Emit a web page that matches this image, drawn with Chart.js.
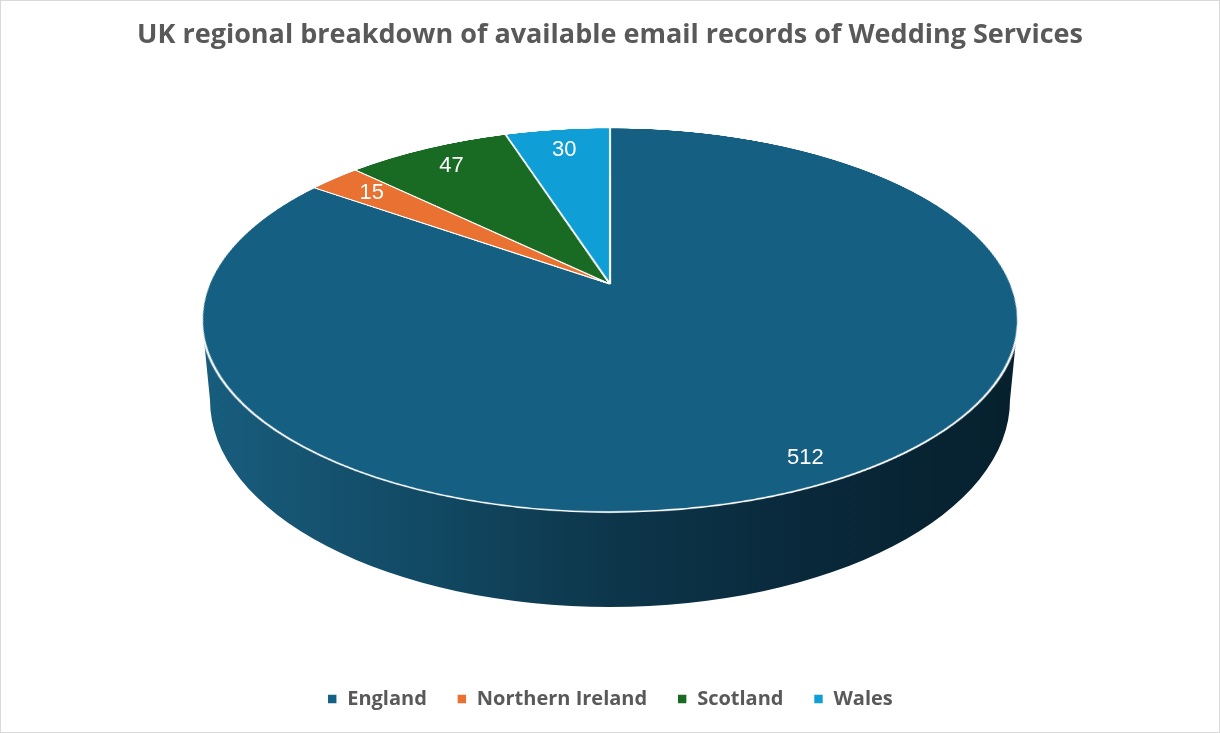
<!DOCTYPE html>
<html>
<head>
<meta charset="utf-8">
<script src="https://cdn.jsdelivr.net/npm/chart.js@4.4.1/dist/chart.umd.min.js"></script>
<style>
  html, body { margin: 0; padding: 0; background: #fff; }
  #wrap { width: 1220px; height: 733px; position: relative; }
</style>
</head>
<body>
<div id="wrap"><canvas id="regionChart"></canvas></div>
<script>
const regions = ['England', 'Northern Ireland', 'Scotland', 'Wales'];
const emailRecords = [512, 15, 47, 30];
const sliceColors = ['#156082', '#e97132', '#196b24', '#0f9ed5'];

// perspective used for the tilted pie: screen x = cx + r*u/(1-k*v), y = cy + b*v/(1-k*v)
const tilt = {
    cx: 610, cy: 284, r: 401, b: 185.25, k: 0.1875,
    // side wall: outline of top face and of the bottom rim
    rimCy: 320, rimRx: 408, rimRy: 192,
    baseCy: 400, baseRx: 400, baseRy: 207,
    labelBack: 0.85, labelFront: 0.9
};

function project(u, v) {
    const d = 1 - tilt.k * v;
    return { x: tilt.cx + tilt.r * u / d, y: tilt.cy + tilt.b * v / d };
}

function depthOfRow(t) {
    return t / (tilt.b + tilt.k * t);
}

const tiltedPie = {
    id: 'tiltedPie',
    beforeDraw(chart) {
        const ctx = chart.ctx;
        ctx.save();
        ctx.fillStyle = '#fff';
        ctx.fillRect(0, 0, chart.width, chart.height);
        ctx.strokeStyle = '#d9d9d9';
        ctx.lineWidth = 1;
        ctx.strokeRect(0.5, 0.5, chart.width - 1, chart.height - 1);
        ctx.restore();
    },
    beforeDatasetsDraw(chart) {
        const ctx = chart.ctx;
        const meta = chart.getDatasetMeta(0);
        const first = meta.data[0];
        const R = first.outerRadius, ox = first.x, oy = first.y;
        const t = tilt;

        // side wall
        ctx.save();
        const grad = ctx.createLinearGradient(t.cx - t.rimRx, 0, t.cx + t.rimRx, 0);
        grad.addColorStop(0, '#185d7d');
        grad.addColorStop(0.3, '#114761');
        grad.addColorStop(0.5, '#0d364b');
        grad.addColorStop(0.75, '#09283a');
        grad.addColorStop(1, '#06202d');
        ctx.beginPath();
        ctx.ellipse(t.cx, t.rimCy, t.rimRx, t.rimRy, 0, 0, Math.PI, false);
        ctx.ellipse(t.cx, t.baseCy, t.baseRx, t.baseRy, 0, Math.PI, 0, true);
        ctx.closePath();
        ctx.fillStyle = grad;
        ctx.fill();
        ctx.restore();

        // flat pie drawn by Chart.js off screen, then laid down in perspective row by row
        const pad = 6;
        const size = Math.ceil(2 * t.r + 2 * pad);
        const C = size / 2;
        const off = document.createElement('canvas');
        off.width = size;
        off.height = size;
        const octx = off.getContext('2d');
        octx.translate(C, C);
        octx.scale(t.r / R, t.r / R);
        octx.translate(-ox, -oy);
        meta.data.forEach(function (arc) { arc.draw(octx); });

        ctx.save();
        const yTop = Math.floor(project(0, -1).y) - 2;
        const yBot = Math.ceil(project(0, 1).y) + 2;
        for (let y = yTop; y < yBot; y++) {
            const v0 = depthOfRow(y - t.cy);
            const v1 = depthOfRow(y + 1 - t.cy);
            const vm = depthOfRow(y + 0.5 - t.cy);
            const sy = C + v0 * t.r;
            const sh = (v1 - v0) * t.r;
            if (sy + sh < 0 || sy > size) continue;
            const s = 1 / (1 - t.k * vm);
            ctx.drawImage(off, 0, sy, size, sh, t.cx - C * s, y, size * s, 1);
        }
        ctx.restore();
        return false;
    },
    afterDraw(chart) {
        const ctx = chart.ctx;
        const meta = chart.getDatasetMeta(0);
        ctx.save();
        ctx.fillStyle = '#fff';
        ctx.font = '22px "Liberation Sans", Arial, sans-serif';
        ctx.textAlign = 'center';
        ctx.textBaseline = 'middle';
        meta.data.forEach(function (arc, i) {
            const mid = (arc.startAngle + arc.endAngle) / 2;
            const c = Math.cos(mid), s = Math.sin(mid);
            const rr = s < 0 ? tilt.labelBack : tilt.labelFront;
            const p = project(rr * c, rr * s);
            ctx.fillText(String(emailRecords[i]), p.x, p.y);
        });
        ctx.restore();
    }
};

const ctx = document.getElementById('regionChart').getContext('2d');
new Chart(ctx, {
    type: 'pie',
    data: {
        labels: regions,
        datasets: [{
            label: 'Email records',
            data: emailRecords,
            backgroundColor: sliceColors,
            borderColor: '#ffffff',
            borderWidth: 1.6
        }]
    },
    options: {
        responsive: true,
        maintainAspectRatio: false,
        animation: false,
        events: [],
        layout: { padding: { bottom: 14 } },
        plugins: {
            title: {
                display: true,
                text: 'UK regional breakdown of available email records of Wedding Services',
                color: '#595959',
                font: { family: '"Open Sans", sans-serif', size: 27, weight: 'bold' },
                padding: { top: 19, bottom: 10 }
            },
            legend: {
                position: 'bottom',
                labels: {
                    boxWidth: 10,
                    boxHeight: 10,
                    padding: 30,
                    color: '#595959',
                    font: { family: '"Open Sans", sans-serif', size: 20, weight: 'bold' }
                }
            },
            tooltip: { enabled: false }
        }
    },
    plugins: [tiltedPie]
});
</script>
</body>
</html>
